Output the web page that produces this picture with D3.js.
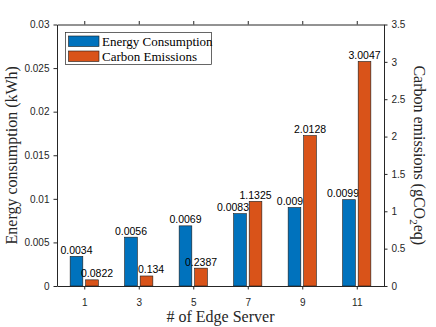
<!DOCTYPE html>
<html lang="en">
  <head>
    <meta charset="UTF-8" />
    <title>Energy and Carbon</title>
    <script src="https://cdn.jsdelivr.net/npm/d3@7"></script>
    <style>
      body { margin: 0; background: #fff; }
      svg { display: block; }
    </style>
  </head>
  <body>
    <svg width="436" height="327"></svg>
    <script>
      const servers = [1, 3, 5, 7, 9, 11];
      const energy = [0.0034, 0.0056, 0.0069, 0.0083, 0.009, 0.0099];
      const carbon = [0.0822, 0.134, 0.2387, 1.1325, 2.0128, 3.0047];
      const energyLabels = ["0.0034", "0.0056", "0.0069", "0.0083", "0.009", "0.0099"];
      const carbonLabels = ["0.0822", "0.134", "0.2387", "1.1325", "2.0128", "3.0047"];
      const leftTicks = [0, 0.005, 0.01, 0.015, 0.02, 0.025, 0.03];
      const rightTicks = [0, 0.5, 1, 1.5, 2, 2.5, 3, 3.5];
      // label nudges (px) so labels sit as in the original figure
      const energyLabelNudge = [0, 0, 0, -7, -4.5, -6];
      const carbonLabelNudge = [5, 4.5, 0, 0, 0, 0];

      const margin = { top: 24.5, right: 52, bottom: 41, left: 57 };
      const width = 436, height = 327;
      const svg = d3.select("svg");
      const axisColor = "#262626";
      const blue = "#0072BD", orange = "#D95319";

      const x = d3.scaleLinear().domain([0, 12]).range([margin.left, width - margin.right]);
      const yL = d3.scaleLinear().domain([0, 0.03]).range([height - margin.bottom, margin.top]);
      const yR = d3.scaleLinear().domain([0, 3.5]).range([height - margin.bottom, margin.top]);

      const barW = 0.465, off = 0.285;
      const labFont = "Liberation Sans, Arial, sans-serif";

      // energy bars + labels (left axis)
      svg.append("g").selectAll("rect").data(servers).join("rect")
        .attr("x", (d) => x(d - off - barW / 2))
        .attr("y", (d, i) => yL(energy[i]))
        .attr("width", x(barW) - x(0))
        .attr("height", (d, i) => yL(0) - yL(energy[i]))
        .attr("fill", blue).attr("stroke", "#1a1a1a").attr("stroke-width", 0.6);
      svg.append("g").attr("font-family", labFont).attr("font-size", 10.5).attr("text-anchor", "middle")
        .selectAll("text").data(servers).join("text")
        .attr("x", (d, i) => x(d - off) + energyLabelNudge[i])
        .attr("y", (d, i) => yL(energy[i]) - 2.5)
        .text((d, i) => energyLabels[i]);

      // carbon bars + labels (right axis), drawn over the energy labels
      svg.append("g").selectAll("rect").data(servers).join("rect")
        .attr("x", (d) => x(d + off - barW / 2))
        .attr("y", (d, i) => yR(carbon[i]))
        .attr("width", x(barW) - x(0))
        .attr("height", (d, i) => yR(0) - yR(carbon[i]))
        .attr("fill", orange).attr("stroke", "#1a1a1a").attr("stroke-width", 0.6);
      svg.append("g").attr("font-family", labFont).attr("font-size", 10.5).attr("text-anchor", "middle")
        .selectAll("text").data(servers).join("text")
        .attr("x", (d, i) => x(d + off) + carbonLabelNudge[i])
        .attr("y", (d, i) => yR(carbon[i]) - 2.5)
        .text((d, i) => carbonLabels[i]);

      // axes
      function style(g) {
        g.selectAll("path, line").attr("stroke", axisColor);
        g.selectAll("text").attr("fill", axisColor)
          .attr("font-family", labFont).attr("font-size", 10);
      }
      svg.append("g").attr("transform", `translate(0,${height - margin.bottom})`)
        .call(d3.axisBottom(x).tickValues(servers).tickSize(3.5).tickSizeOuter(0).tickPadding(9))
        .call(style);
      svg.append("g").attr("transform", `translate(0,${margin.top})`)
        .call(d3.axisTop(x).tickValues(servers).tickSize(3.5).tickSizeOuter(0).tickFormat(""))
        .call(style);
      svg.append("g").attr("transform", `translate(${margin.left},0)`)
        .call(d3.axisLeft(yL).tickValues(leftTicks).tickFormat(d3.format("~g")).tickSize(3.5).tickSizeOuter(0).tickPadding(4))
        .call(style);
      svg.append("g").attr("transform", `translate(${width - margin.right},0)`)
        .call(d3.axisRight(yR).tickValues(rightTicks).tickFormat(d3.format("~g")).tickSize(3.5).tickSizeOuter(0).tickPadding(4))
        .call(style);

      // axis titles
      const serif = "Liberation Serif, Times New Roman, serif";
      svg.append("text").attr("x", (margin.left + width - margin.right) / 2).attr("y", 322)
        .attr("text-anchor", "middle").attr("font-family", serif).attr("font-size", 16)
        .attr("fill", axisColor).text("# of Edge Server");
      svg.append("text").attr("transform", `translate(17,${(margin.top + height - margin.bottom) / 2}) rotate(-90)`)
        .attr("text-anchor", "middle").attr("font-family", serif).attr("font-size", 16)
        .attr("fill", axisColor).text("Energy consumption (kWh)");
      const rt = svg.append("text").attr("transform", `translate(414,${(margin.top + height - margin.bottom) / 2}) rotate(90)`)
        .attr("text-anchor", "middle").attr("font-family", serif).attr("font-size", 16)
        .attr("fill", axisColor);
      rt.append("tspan").text("Carbon emissions (gCO");
      rt.append("tspan").attr("font-size", 11).attr("dy", 4).text("2");
      rt.append("tspan").attr("dy", -4).text("eq)");

      // legend
      const leg = svg.append("g");
      leg.append("rect").attr("x", 65.5).attr("y", 32.5).attr("width", 146).attr("height", 32)
        .attr("fill", "#fff").attr("stroke", axisColor).attr("stroke-width", 0.7);
      const items = [["Energy Consumption", blue], ["Carbon Emissions", orange]];
      items.forEach(([t, c], i) => {
        leg.append("rect").attr("x", 68.5).attr("y", 36 + i * 15).attr("width", 30.5).attr("height", 10.5)
          .attr("fill", c).attr("stroke", "#1a1a1a").attr("stroke-width", 0.6);
        leg.append("text").attr("x", 102).attr("y", 45.5 + i * 15)
          .attr("font-family", serif).attr("font-size", 13).attr("fill", "#000").text(t);
      });
    </script>
  </body>
</html>
